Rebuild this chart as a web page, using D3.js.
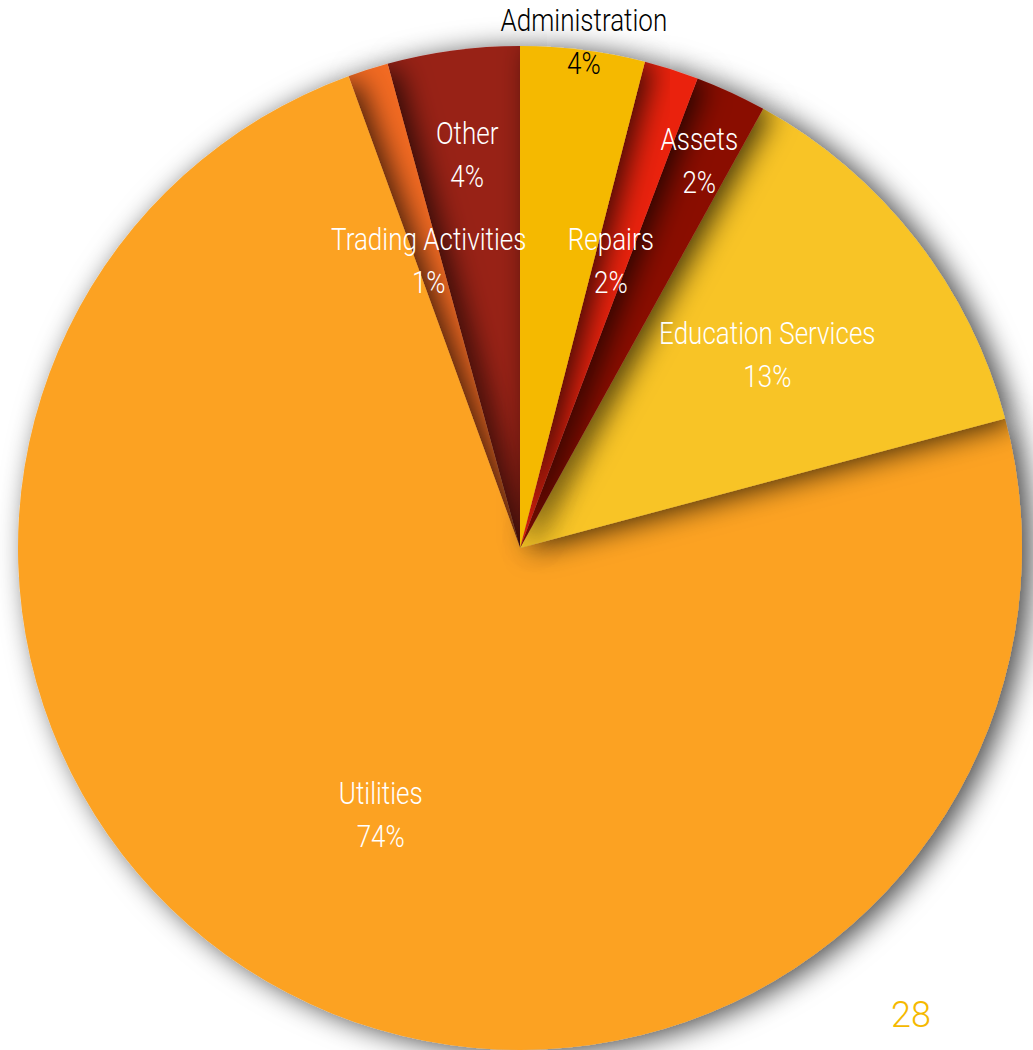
<!DOCTYPE html>
<html>
<head>
<meta charset="utf-8">
<script src="https://cdn.jsdelivr.net/npm/d3@7"></script>
<style>
  body { margin: 0; background: #fff; }
  svg { display: block; }
</style>
</head>
<body>
<div id="chart"></div>
<script>
// slice data, clockwise from 12 o'clock
const categories = ["Administration", "Repairs", "Assets", "Education Services", "Utilities", "Trading Activities", "Other"];
const values = [4.0, 1.75, 2.3, 12.8, 73.6, 1.3, 4.25];
const pctLabels = ["4%", "2%", "2%", "13%", "74%", "1%", "4%"];
const pageNumber = "28";

const W = 1033, H = 1050;
const cx = 520, cy = 548, R = 502;

const colors = {
    "Administration": "#F5B900",
    "Repairs": "#EA2310",
    "Assets": "#8A0E00",
    "Education Services": "#F8C425",
    "Utilities": "#FCA222",
    "Trading Activities": "#F26B22",
    "Other": "#982019"
};

// how far out each label sits (fraction of radius)
const labelR = {
    "Administration": 1.015,
    "Repairs": 0.6,
    "Assets": 0.85,
    "Education Services": 0.625,
    "Utilities": 0.6,
    "Trading Activities": 0.6,
    "Other": 0.79
};

const svg = d3.select("#chart").append("svg")
    .attr("width", W)
    .attr("height", H);

const defs = svg.append("defs");
const f = defs.append("filter")
    .attr("id", "shadow")
    .attr("x", "-20%").attr("y", "-20%")
    .attr("width", "140%").attr("height", "140%");
f.append("feDropShadow")
    .attr("dx", 9).attr("dy", 3)
    .attr("stdDeviation", 14)
    .attr("flood-color", "#000")
    .attr("flood-opacity", 0.72);

const pie = d3.pie().sort(null).value(d => d.value);
const arcs = pie(categories.map((c, i) => ({ name: c, value: values[i], pct: pctLabels[i] })));

const arc = d3.arc().innerRadius(0).outerRadius(R);

const g = svg.append("g").attr("transform", `translate(${cx},${cy})`);

// draw in reverse so each slice shades its clockwise neighbour
g.selectAll("path.slice")
    .data(arcs.slice().reverse())
    .enter()
    .append("path")
    .attr("class", "slice")
    .attr("d", arc)
    .attr("fill", d => colors[d.data.name])
    .attr("filter", "url(#shadow)");

// labels (condensed look: narrow the text horizontally)
const labels = g.selectAll("g.label")
    .data(arcs)
    .enter()
    .append("g")
    .attr("class", "label")
    .attr("transform", d => {
        const a = (d.startAngle + d.endAngle) / 2;
        const r = R * labelR[d.data.name];
        return `translate(${Math.sin(a) * r},${-Math.cos(a) * r}) scale(0.84,1)`;
    })
    .style("font-family", "Roboto, sans-serif")
    .style("font-weight", 300)
    .style("font-size", "31px")
    .attr("text-anchor", "middle")
    .attr("fill", d => d.data.name === "Administration" ? "#000" : "#fff");

labels.append("text")
    .attr("y", -11)
    .text(d => d.data.name);

labels.append("text")
    .attr("y", 32)
    .text(d => d.data.pct);

// page number
svg.append("text")
    .attr("x", 911)
    .attr("y", 1027)
    .attr("text-anchor", "middle")
    .style("font-family", "Roboto, sans-serif")
    .style("font-weight", 300)
    .style("font-size", "36px")
    .attr("fill", "#F5B900")
    .text(pageNumber);
</script>
</body>
</html>
